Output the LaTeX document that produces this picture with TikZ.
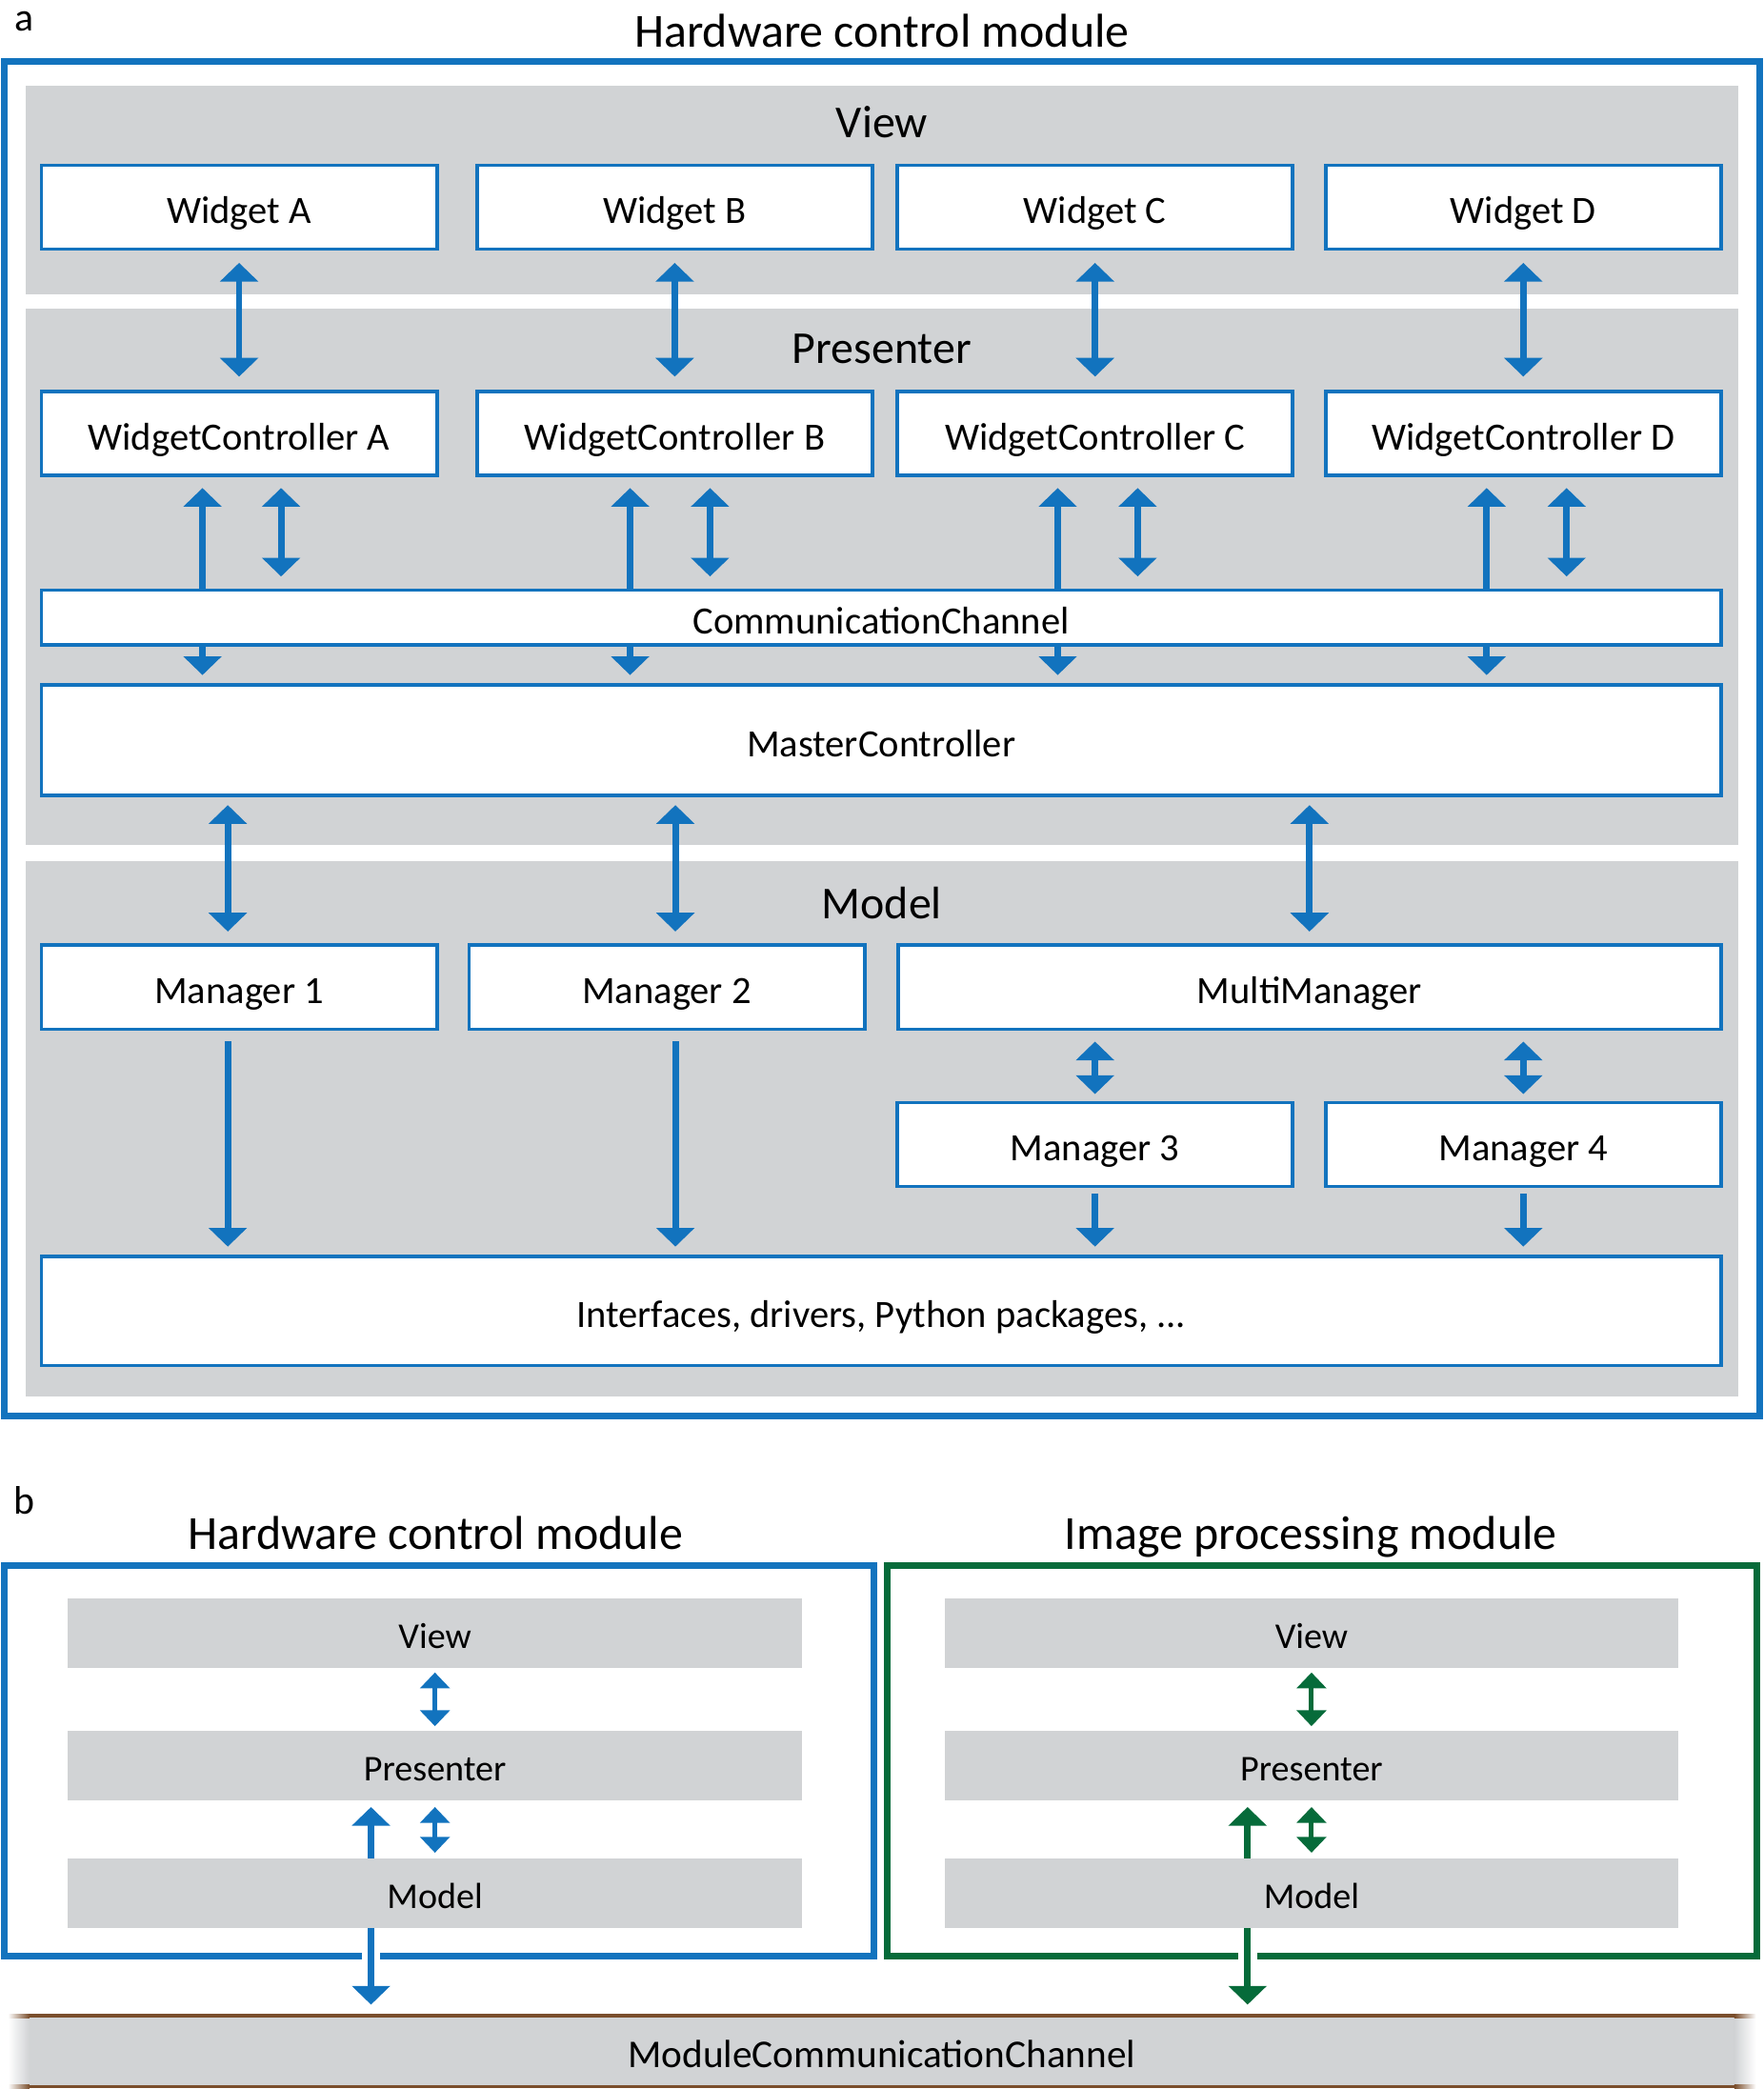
\documentclass[tikz,border=0pt]{standalone}
\usepackage{fontspec}
\setmainfont{Carlito}
\usetikzlibrary{arrows.meta,calc}

\definecolor{hwblue}{HTML}{1273BE}
\definecolor{ipgreen}{HTML}{066B3A}
\definecolor{panelgray}{HTML}{D1D3D5}
\definecolor{chbrown}{HTML}{7A4E2C}

\tikzset{
  wbox/.style={draw=hwblue, line width=1.5pt, fill=white, inner sep=0pt,
    minimum width=5.94cm, minimum height=1.26cm, text height=14pt, text depth=0pt,
    font=\fontsize{16.5}{19}\selectfont},
  widebox/.style={wbox, minimum width=25.22cm},
  bbar/.style={fill=panelgray, inner sep=0pt, minimum width=11.02cm,
    minimum height=1.04cm, text height=13pt, text depth=0pt, font=\fontsize{15.5}{18}\selectfont},
  titletext/.style={text height=15pt, text depth=0pt, font=\fontsize{20.3}{23}\selectfont},
  paneltext/.style={font=\fontsize{19.5}{22}\selectfont},
  bi/.style={line width=2.8pt, {Triangle[width=16pt,length=8pt]}-{Triangle[width=16pt,length=8pt]}},
  uni/.style={line width=2.8pt, -{Triangle[width=16pt,length=8pt]}},
  bis/.style={line width=2pt, {Triangle[width=12.5pt,length=6.8pt]}-{Triangle[width=12.5pt,length=6.8pt]}},
}

\begin{document}
\begin{tikzpicture}[x=0.02cm, y=-0.02cm]
\useasboundingbox (0,0) rectangle (1324,1568);

% part a
\node[font=\fontsize{17}{20}\selectfont] (la) at (18,16) {a};
\node[titletext] (ta) at (662,22) {Hardware control module};
\draw[hwblue, line width=2.8pt] (3,46) rectangle (1321,1063);

\fill[panelgray] (19,64) rectangle (1305,221);
\fill[panelgray] (19,232) rectangle (1305,634);
\fill[panelgray] (19,646) rectangle (1305,1048);
\node[paneltext] (lview) at (662,92) {View};
\node[paneltext] (lpres) at (662,262) {Presenter};
\node[paneltext] (lmodel) at (662,678) {Model};

\node[widebox, minimum height=0.82cm] (cc) at (661.5,463.5) {CommunicationChannel};
\node[widebox, minimum height=1.66cm] (mc) at (661.5,555.5) {MasterController};

\foreach \n/\x/\ua/\ub in {A/179.5/-27.5/31.5, B/506.5/-33.5/26.5, C/822/-28/32, D/1143.5/-27.5/32.5}{
  \node[wbox] (w\n) at (\x,155.5) {Widget \n};
  \node[wbox] (wc\n) at (\x,325.5) {WidgetController \n};
  \draw[hwblue, bi, shorten <=0.18cm, shorten >=0.2cm] (w\n.south) -- (wc\n.north);
  \draw[hwblue, uni] ($(cc.north -| wc\n.south)+(\ua,0)$) -- ($(wc\n.south)+(\ua,8)$);
  \draw[hwblue, bi] ($(wc\n.south)+(\ub,8)$) -- ($(cc.north -| wc\n.south)+(\ub,-9)$);
  \draw[hwblue, uni] ($(cc.south -| wc\n.south)+(\ua,0)$) -- ($(mc.north -| wc\n.south)+(\ua,-6)$);
}

\node[wbox] (m1) at (179.5,741) {Manager 1};
\node[wbox] (m2) at (500.5,741) {Manager 2};
\node[wbox, minimum width=12.36cm] (mm) at (983,741) {MultiManager};
\node[wbox] (m3) at (822,859) {Manager 3};
\node[wbox] (m4) at (1143.5,859) {Manager 4};
\node[widebox, minimum height=1.64cm] (ifc) at (661.5,984) {Interfaces, drivers, Python packages, ...};

\coordinate (x1) at (171,0);
\coordinate (x2) at (507,0);
\coordinate (x3) at (983,0);
\draw[hwblue, bi] ($(mc.south -| x1)+(0,6)$) -- ($(m1.north -| x1)+(0,-9)$);
\draw[hwblue, bi] ($(mc.south -| x2)+(0,6)$) -- ($(m2.north -| x2)+(0,-9)$);
\draw[hwblue, bi] ($(mc.south -| x3)+(0,6)$) -- ($(mm.north -| x3)+(0,-9)$);
\draw[hwblue, uni] ($(m1.south -| x1)+(0,8)$) -- ($(ifc.north -| x1)+(0,-6)$);
\draw[hwblue, uni] ($(m2.south -| x2)+(0,8)$) -- ($(ifc.north -| x2)+(0,-6)$);
\foreach \n in {m3,m4}{
  \draw[hwblue, bi] ($(mm.south -| \n.north)+(0,8)$) -- ($(\n.north)+(0,-5)$);
  \draw[hwblue, uni] ($(\n.south)+(0,4)$) -- ($(ifc.north -| \n.south)+(0,-6)$);
}

% part b
\node[font=\fontsize{17}{20}\selectfont] (lb) at (18,1126) {b};
\node[titletext] (thw) at (327,1150) {Hardware control module};
\node[titletext] (tip) at (984,1150) {Image processing module};

% module channel
\fill[panelgray] (22,1513) rectangle (1302,1566);
\shade[left color=white, right color=panelgray] (6,1513) rectangle (22,1566);
\shade[left color=panelgray, right color=white] (1302,1513) rectangle (1318,1566);
\draw[chbrown, line width=1.4pt] (22,1513) -- (1302,1513) (22,1566) -- (1302,1566);
\shade[left color=white, right color=chbrown] (6,1512) rectangle (22,1514.4);
\shade[left color=chbrown, right color=white] (1302,1512) rectangle (1318,1514.4);
\shade[left color=white, right color=chbrown] (6,1565) rectangle (22,1567.4);
\shade[left color=chbrown, right color=white] (1302,1565) rectangle (1318,1567.4);
\node[inner sep=0pt, minimum width=25.6cm, minimum height=1.06cm, text height=14pt, text depth=0pt,
  font=\fontsize{16.8}{19}\selectfont] (mcc) at (662,1539.5) {ModuleCommunicationChannel};

\foreach \k/\col/\x/\fx in {h/hwblue/326.5/3, i/ipgreen/984.5/666}{
  \draw[\col, line width=2.8pt] (\fx,1175) rectangle ({\fx+653},1468);
  \node[bbar] (\k v) at (\x,1226) {View};
  \node[bbar] (\k p) at (\x,1325) {Presenter};
  \node[bbar] (\k m) at (\x,1421) {Model};
  \draw[\col, bis, shorten <=0.06cm, shorten >=0.06cm] (\k v.south) -- (\k p.north);
  \draw[\col, uni] ($(\k m.north)+(-48,0)$) -- ($(\k p.south)+(-48,5)$);
  \draw[\col, bis] ($(\k p.south)+(0,5)$) -- ($(\k m.north)+(0,-4)$);
  \draw[white, line width=8pt] ($(\k m.south)+(-48,14)$) -- ($(\k m.south)+(-48,29)$);
  \draw[\col, uni] ($(\k m.south)+(-48,0)$) -- ($(mcc.north -| \k m.south)+(-48,-8)$);
}
\end{tikzpicture}
\end{document}
